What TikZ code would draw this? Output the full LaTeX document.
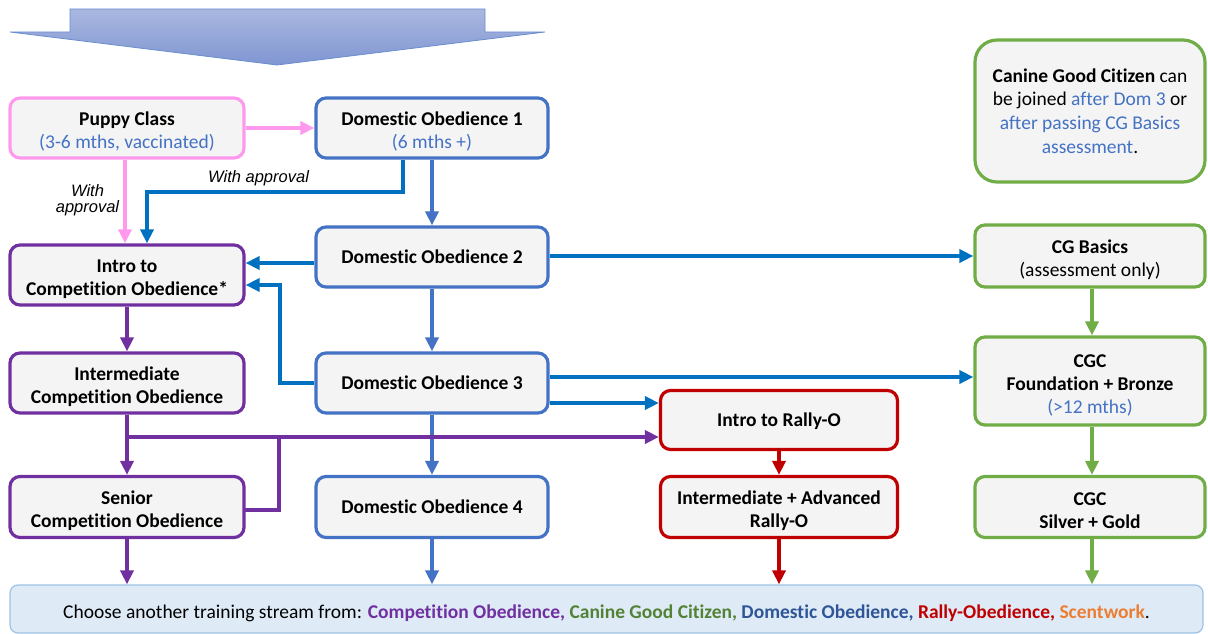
\documentclass[tikz,border=0pt]{standalone}
\usepackage{fontspec}
\setmainfont{Carlito}[Ligatures={NoCommon}]
\newfontfamily\arialf{Liberation Sans}
\usetikzlibrary{arrows.meta,calc}
\newcommand\topstrut{\rule{0pt}{21pt}}
\definecolor{boxfill}{HTML}{F4F4F4}
\definecolor{pinkc}{HTML}{FF99EE}
\definecolor{domc}{HTML}{4472C4}
\definecolor{crossc}{HTML}{0070C0}
\definecolor{purc}{HTML}{7030A0}
\definecolor{redc}{HTML}{C00000}
\definecolor{grnc}{HTML}{70AD47}
\definecolor{txtblue}{HTML}{4472C4}
\definecolor{grntxt}{HTML}{548235}
\definecolor{domtxt}{HTML}{2F5597}
\definecolor{orgc}{HTML}{ED7D31}
\definecolor{botfill}{HTML}{DEEBF7}
\definecolor{botline}{HTML}{9DC3E6}
\begin{document}
\begin{tikzpicture}[x=1pt,y=-1pt,
  box/.style={draw, line width=3.2pt, rounded corners=10pt, fill=boxfill, align=center, inner sep=0pt, font=\fontsize{19.5}{23}\selectfont\bfseries},
  conn/.style={line width=4pt, -{Triangle[length=14pt,width=13pt]}},
  plain/.style={line width=4pt},
  lbl/.style={font=\arialf\itshape\fontsize{16.5}{16}\selectfont, align=center, inner sep=0pt}]
\useasboundingbox (0,0) rectangle (1208,634);
% top arrow
\draw[draw=domc!80, line width=0.8pt, top color={rgb,255:red,170;green,184;blue,224}, bottom color={rgb,255:red,128;green,150;blue,210}]
  (70,9) -- (485,9) -- (485,32) -- (545,32) -- (277,65) -- (10,32) -- (70,32) -- cycle;
% boxes
\node[box, draw=pinkc, minimum width=234pt, minimum height=60pt] (puppy) at (127,128) {\topstrut Puppy Class\\\mdseries\color{txtblue}(3-6 mths, vaccinated)};
\node[box, draw=domc, minimum width=232pt, minimum height=60pt] (do1) at (432,128) {\topstrut Domestic Obedience 1\\\mdseries\color{txtblue}(6 mths +)};
\node[box, draw=grnc, minimum width=230pt, minimum height=142pt, rounded corners=22pt, font=\fontsize{19.5}{23.7}\selectfont] (note) at (1090,111) {\textbf{Canine Good Citizen} can\\be joined \textcolor{txtblue}{after Dom 3} or\\\textcolor{txtblue}{after passing CG Basics}\\\textcolor{txtblue}{assessment}.};
\node[box, draw=purc, minimum width=234pt, minimum height=60pt] (intro) at (127,275) {\topstrut Intro to\\Competition Obedience*};
\node[box, draw=domc, minimum width=232pt, minimum height=60pt] (do2) at (432,257) {Domestic Obedience 2};
\node[box, draw=grnc, minimum width=230pt, minimum height=62pt] (cgb) at (1090,256) {\topstrut CG Basics\\\mdseries (assessment only)};
\node[box, draw=purc, minimum width=234pt, minimum height=60pt] (inter) at (127,383) {\topstrut Intermediate\\Competition Obedience};
\node[box, draw=domc, minimum width=232pt, minimum height=60pt] (do3) at (432,383) {Domestic Obedience 3};
\node[box, draw=grnc, minimum width=230pt, minimum height=88pt] (cgcf) at (1090,381) {\topstrut CGC\\Foundation + Bronze\\\mdseries\color{txtblue}(>12 mths)};
\node[box, draw=redc, minimum width=237pt, minimum height=59pt] (irally) at (779,420) {\rule{0pt}{17pt}Intro to Rally-O};
\node[box, draw=purc, minimum width=234pt, minimum height=61pt] (senior) at (127,507) {\topstrut Senior\\Competition Obedience};
\node[box, draw=domc, minimum width=232pt, minimum height=61pt] (do4) at (432,507) {Domestic Obedience 4};
\node[box, draw=redc, minimum width=237pt, minimum height=61pt] (iarally) at (779,507) {\topstrut Intermediate + Advanced\\Rally-O};
\node[box, draw=grnc, minimum width=230pt, minimum height=61pt] (silver) at (1090,507) {\topstrut CGC\\Silver + Gold};
\node[draw=botline, line width=1.2pt, fill=botfill, rounded corners=8pt, minimum width=1193pt, minimum height=48pt, inner sep=0pt, font=\fontsize{19.5}{22}\selectfont] (bottom) at (606.5,609)
  {\rule{0pt}{23pt}Choose another training stream from: \textbf{\textcolor{purc}{Competition Obedience,} \textcolor{grntxt}{Canine Good Citizen,} \textcolor{domtxt}{Domestic Obedience,} \textcolor{redc}{Rally-Obedience,} \textcolor{orgc}{Scentwork}}.};
% pink connectors
\draw[conn, pinkc] (puppy.east) -- (do1.west);
\draw[conn, pinkc] ([xshift=-2pt]puppy.south) -- ([xshift=-2pt]intro.north);
\node[lbl, anchor=north] (lbl1) at (87.5,184) {With\\approval};
% DO1 -> intro
\draw[conn, crossc] ([xshift=-29pt]do1.south) -- ++(0,32) -| ([xshift=20pt]intro.north);
\node[lbl, anchor=south west] (lbl2) at (208,186) {With approval};
% domestic chain
\draw[conn, domc] (do1.south) -- (do2.north);
\draw[conn, domc] (do2.south) -- (do3.north);
\draw[conn, domc] (do3.south) -- (do4.north);
\draw[conn, domc] (do4.south) -- (do4.south |- bottom.north);
% cross blue
\coordinate (a2) at ($(do2.west)+(0,6)$);
\draw[conn, crossc] (a2) -- (a2 -| intro.east);
\coordinate (b3) at (280,285);
\draw[conn, crossc] (do3.west) -| (b3) -- (b3 -| intro.east);
\coordinate (a3) at ($(do2.east)+(0,-1)$);
\draw[conn, crossc] (a3) -- (a3 -| cgb.west);
\coordinate (a4) at ($(do3.east)+(0,-6)$);
\draw[conn, crossc] (a4) -- (a4 -| cgcf.west);
\coordinate (a5) at ($(do3.east)+(0,20)$);
\draw[conn, crossc] (a5) -- (a5 -| irally.west);
% purple
\draw[conn, purc] (intro.south) -- (inter.north);
\draw[conn, purc] (inter.south) -- (senior.north);
\coordinate (p1) at (127,437);
\draw[conn, purc] (p1) -- (p1 -| irally.west);
\coordinate (p2) at (279,437);
\coordinate (p3) at (244,510);
\draw[plain, purc] (p3) -| (p2);
\draw[conn, purc] (senior.south) -- (senior.south |- bottom.north);
% red
\draw[conn, redc] (irally.south) -- (iarally.north);
\draw[conn, redc] (iarally.south) -- (iarally.south |- bottom.north);
% green
\draw[conn, grnc] ([xshift=2pt]cgb.south) -- ([xshift=2pt]cgcf.north);
\draw[conn, grnc] ([xshift=2pt]cgcf.south) -- ([xshift=2pt]silver.north);
\draw[conn, grnc] ([xshift=2pt]silver.south) -- ([xshift=2pt]silver.south |- bottom.north);
\end{tikzpicture}
\end{document}
